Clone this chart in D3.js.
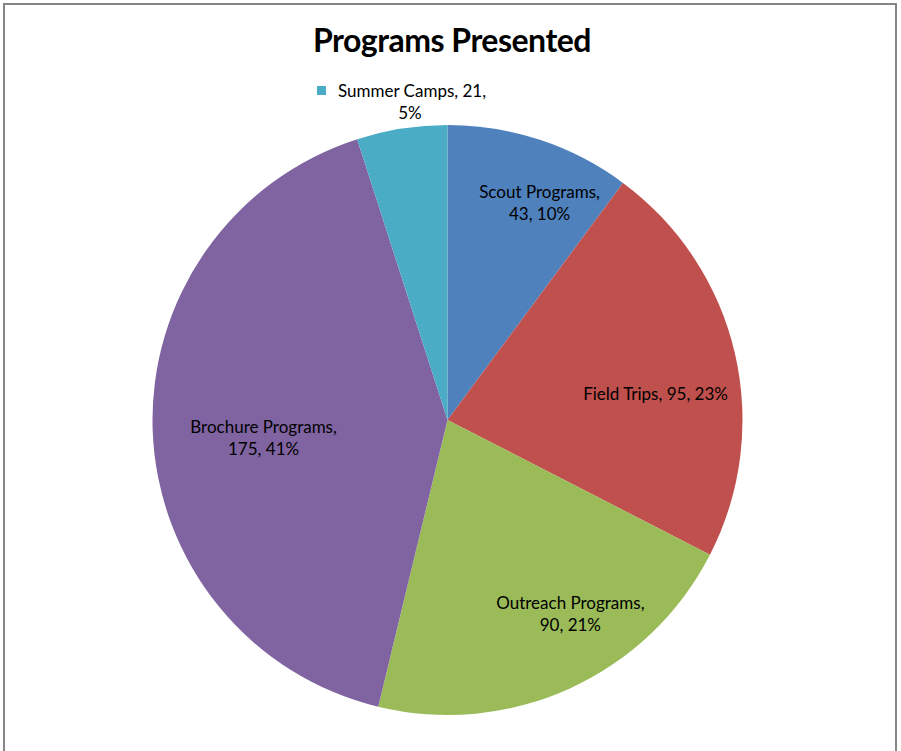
<!DOCTYPE html>
<html>
<head>
<meta charset="utf-8">
<script src="https://cdn.jsdelivr.net/npm/d3@7"></script>
<style>
	body { margin: 0; background: #fff; }
	text { font-family: Lato, "Open Sans", sans-serif; fill: #000; }
</style>
</head>
<body>
<div id="chart"></div>
<script>

// Chart data
var categories = ["Scout Programs", "Field Trips", "Outreach Programs", "Brochure Programs", "Summer Camps"];
var values = [43, 95, 90, 175, 21];
var percentLabels = ["10%", "23%", "21%", "41%", "5%"];
var colors = ["#4F81BD", "#C0504D", "#9BBB59", "#8064A2", "#4BACC6"];

// Label lines as they wrap in the picture
var labelLines = [
	["Scout Programs,", "43, 10%"],
	["Field Trips, 95, 23%"],
	["Outreach Programs,", "90, 21%"],
	["Brochure Programs,", "175, 41%"],
	["Summer Camps, 21,", "5%"]
];

// Nudges from the arc centroid, best fit like the original
var labelNudge = [[20, 2], [-16, 26], [27, -15], [46, 9], [0, 0]];

var width = 901,
	height = 751;

var center = { x: 447.5, y: 420 },
	radius = 295;

var svg = d3.select("#chart").append("svg")
	.attr("width", width)
	.attr("height", height);

// Outer frame
svg.append("rect")
	.attr("x", 4)
	.attr("y", 4)
	.attr("width", 892)
	.attr("height", 760)
	.attr("fill", "#fff")
	.attr("stroke", "#868686")
	.attr("stroke-width", 2);

// Title
svg.append("text")
	.attr("x", 452)
	.attr("y", 52)
	.attr("text-anchor", "middle")
	.style("font-size", "32px")
	.style("font-weight", "bold")
	.style("letter-spacing", "-0.5px")
	.text("Programs Presented");

var pie = d3.pie()
	.sort(null)
	.value(function(d) { return d; });

var arcs = pie(values);

var arc = d3.arc()
	.innerRadius(0)
	.outerRadius(radius);

var labelArc = d3.arc()
	.innerRadius(radius * 0.78)
	.outerRadius(radius * 0.78);

var g = svg.append("g")
	.attr("transform", "translate(" + center.x + "," + center.y + ")");

g.selectAll("path.slice")
	.data(arcs)
	.enter()
	.append("path")
	.attr("class", "slice")
	.attr("d", arc)
	.attr("fill", function(d, i) { return colors[i]; });

// Labels inside the slices
arcs.forEach(function(d, i) {
	if (i === 4) return;
	var c = labelArc.centroid(d);
	var lines = labelLines[i];
	var x = c[0] + labelNudge[i][0],
		y = c[1] + labelNudge[i][1] - (lines.length - 1) * 11;
	var t = g.append("text")
		.attr("text-anchor", "middle")
		.style("font-size", "17px");
	lines.forEach(function(line, j) {
		t.append("tspan")
			.attr("x", x)
			.attr("y", y + j * 22 + 6)
			.text(line);
	});
});

// Summer Camps label sits outside with a small key marker
var outside = svg.append("g")
	.attr("transform", "translate(410, 0)");

outside.append("rect")
	.attr("x", -93)
	.attr("y", 86)
	.attr("width", 9)
	.attr("height", 9)
	.attr("fill", colors[4]);

var st = outside.append("text")
	.attr("text-anchor", "middle")
	.style("font-size", "17px");

labelLines[4].forEach(function(line, j) {
	st.append("tspan")
		.attr("x", j === 0 ? 2 : 0)
		.attr("y", 97 + j * 22)
		.text(line);
});

</script>
</body>
</html>
